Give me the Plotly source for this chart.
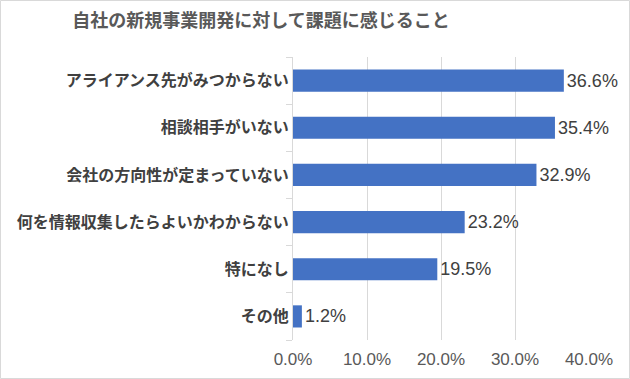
import plotly.graph_objects as go

categories = [
    "アライアンス先がみつからない",
    "相談相手がいない",
    "会社の方向性が定まっていない",
    "何を情報収集したらよいかわからない",
    "特になし",
    "その他",
]
values = [0.366, 0.354, 0.329, 0.232, 0.195, 0.012]
tick_vals = [0, 0.1, 0.2, 0.3, 0.4]

W, H = 630, 379
L, R, T, B = 293, 41, 57, 39
pw, ph = W - L - R, H - T - B

fig = go.Figure(go.Bar(
    x=values, y=categories, orientation="h",
    marker=dict(color="#4472C4", line=dict(width=0)),
    texttemplate="%{x:.1%}", textposition="outside",
    textfont=dict(size=18, color="#404040", family="Liberation Sans, Arial, sans-serif"),
    cliponaxis=False,
))

fig.update_layout(
    width=W, height=H,
    margin=dict(l=L, r=R, t=T, b=B, autoexpand=False),
    paper_bgcolor="white", plot_bgcolor="white",
    bargap=0.53,
    showlegend=False,
    font=dict(family="Noto Sans CJK JP, sans-serif"),
    title=dict(
        text="<b>自社の新規事業開発に対して課題に感じること</b>",
        font=dict(size=18, color="#595959", family="Noto Sans CJK JP"),
        xref="container", x=261 / W, xanchor="center",
        yref="container", y=1 - 21 / H, yanchor="middle",
    ),
    xaxis=dict(
        range=[0, 0.4], tickvals=tick_vals, tickformat=".1%",
        showgrid=True, gridcolor="#d9d9d9", gridwidth=1,
        zeroline=False, showline=False,
        ticks="outside", ticklen=4, tickcolor="rgba(0,0,0,0)",
        tickfont=dict(size=17, color="#595959", family="Liberation Sans, Arial, sans-serif"),
        fixedrange=True,
    ),
    yaxis=dict(
        autorange="reversed", type="category",
        showline=True, linecolor="#d9d9d9", linewidth=1,
        ticks="outside", ticklen=6, tickcolor="#d9d9d9", tickson="boundaries",
        tickfont=dict(size=16, color="#404040", family="Noto Sans CJK JP"),
        showgrid=False, fixedrange=True,
    ),
    shapes=[dict(
        type="rect", xref="paper", yref="paper",
        x0=(0.5 - L) / pw, x1=(W - 0.5 - L) / pw,
        y0=-(B - 0.5) / ph, y1=(ph + T - 0.5) / ph,
        line=dict(color="#d9d9d9", width=1), fillcolor="rgba(0,0,0,0)", layer="below",
    )],
)
fig.update_yaxes(ticktext=[f"<b>{c}</b>" for c in categories], tickvals=categories)

fig.write_html(
    "out.html",
    config={"displayModeBar": False},
    post_script="document.body.style.margin='0';document.body.style.padding='0';",
)
